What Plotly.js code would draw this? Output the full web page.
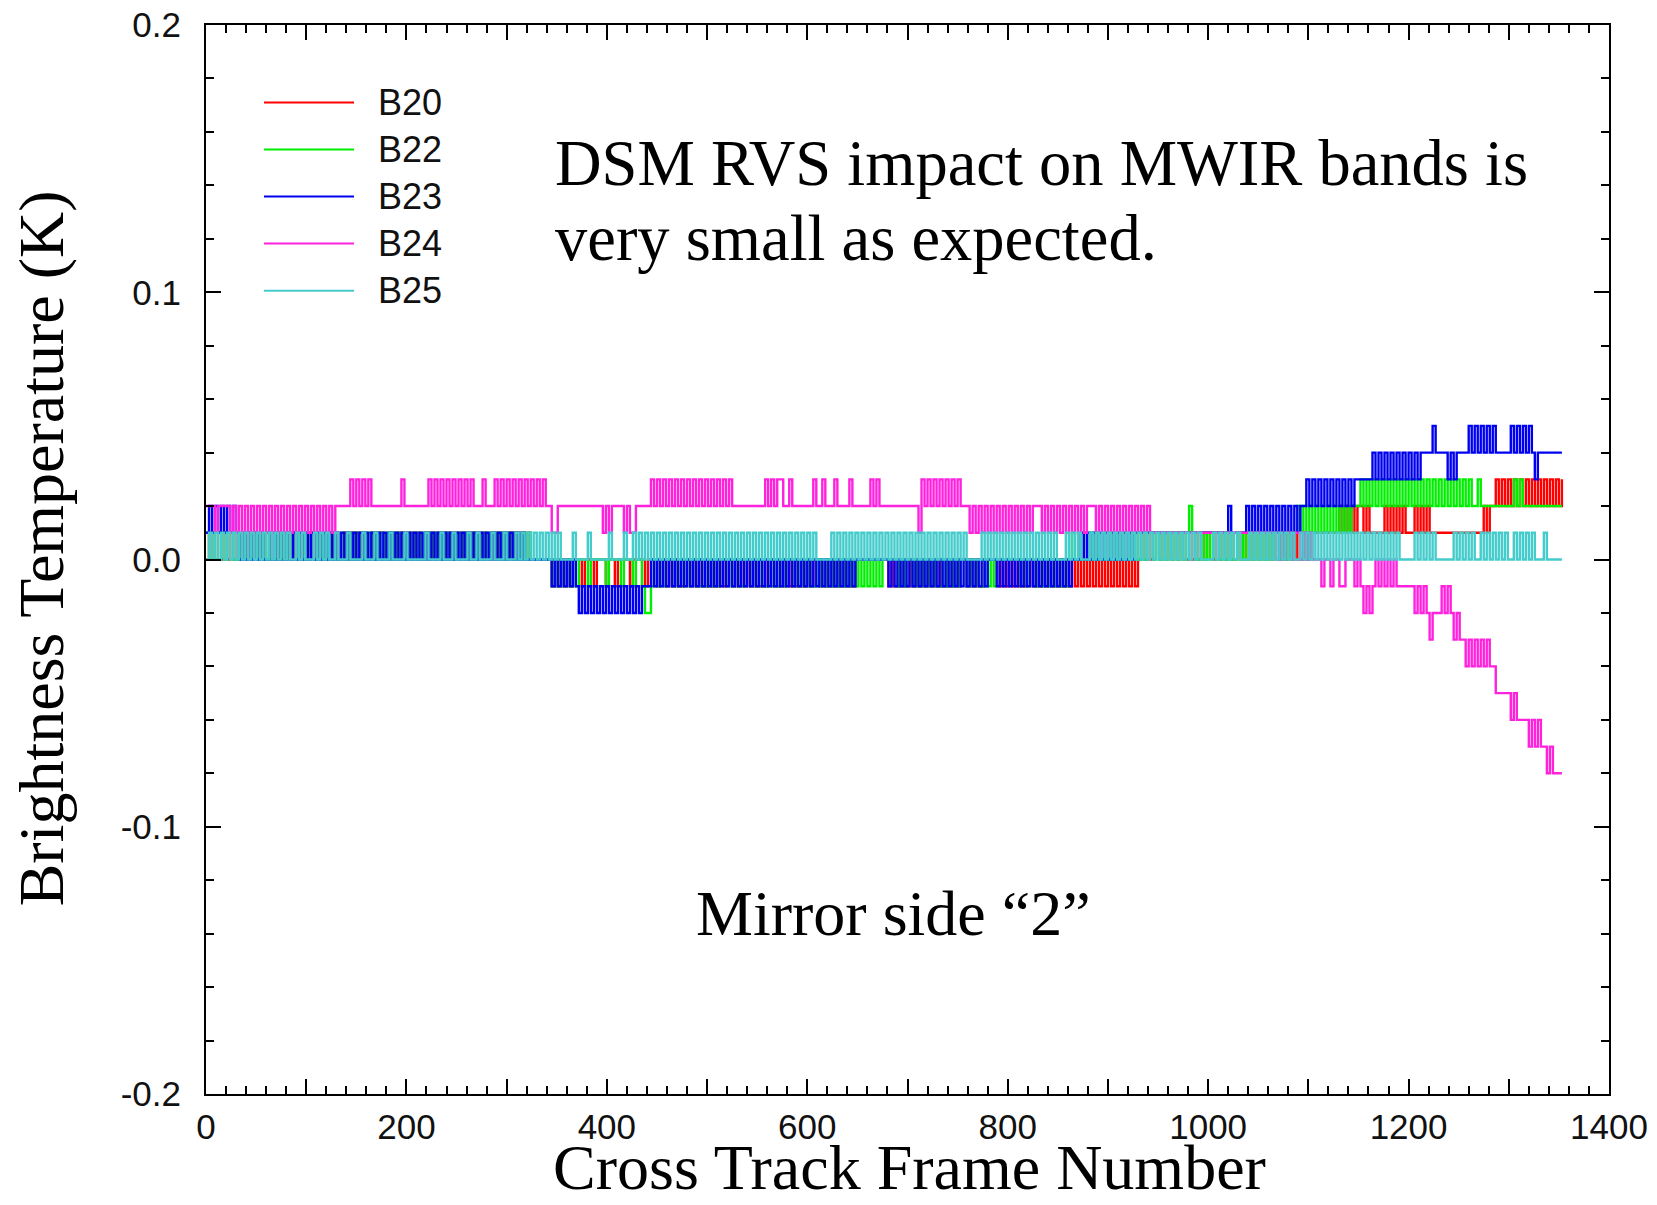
<!DOCTYPE html>
<html>
<head>
<meta charset="utf-8">
<script src="https://cdn.plot.ly/plotly-3.0.1.min.js"></script>
<style>
  html, body { margin: 0; padding: 0; background: #ffffff; }
  #chart { width: 1657px; height: 1205px; }
</style>
</head>
<body>
<div id="chart"></div>
<script>
// Brightness temperature change versus cross-track frame, MWIR bands, mirror side 2.
// Every series string holds one sample per FRAME_STEP frames (groups of ten
// samples = 30 frames, spaces are only for readability). Each letter is a
// value in 0.01 K steps: 'a' = -0.08 K ... 'i' = 0.00 K ... 'n' = +0.05 K.
const FRAME_STEP = 3;
const LEVEL_CODES = 'abcdefghijklmn';
const ZERO_CODE = 'i';

const bandNames = ['B20', 'B22', 'B23', 'B24', 'B25'];
const bandColors = ['#ff0000', '#00ee00', '#0000f0', '#ff22dd', '#44cccc'];

const b20 =
  'ijijjijiji jiijijjiji ijjijiijij jijijjijii ijijiijiji jijiijijji ' +
  'ijijijjiji jiijijijij ijijjijiji jijiijijij ijijijijii iiiiihihih ' +
  'ihiiihiiih iiihiihiii ihiiiihiii hiihihihhi ihihihhihi hihiihihih ' +
  'ihihhihiih hihihihhih ihiihihihi hihihhiiii iiiiiiihih hihhihihih ' +
  'ihihihhihi hiihihihhi iiiihihihi hihiihihih ihihihihih ihihihihih ' +
  'ihihihihih ijijijjiji jijijiijij ijijjijiji jiijijijij ijijijjiji ' +
  'jijiijijjj jjjjjjjkjk jkjkkjkjjj jjkjkjkjkj jjkjkjkjjj jjjjjjjjjj ' +
  'jjjjjkjkkl klklklklkl klklklklkl kl';

const b22 =
  'jijiijijji ijijjijiji jiijijijij ijijijjiji jijiijijij ijjijijiji ' +
  'jijijiijij ijijjijiji jiijijijij ijijijjiji jijiijijii iiiiihihih ' +
  'ihihiiihii iiihiiiihi iihiihgghi hihiihihih ihihhihihi hiihihihhi ' +
  'ihihihhihi hihiihihih ihhihihihi hihihihihi hihihiiiii hihiihihih ' +
  'ihihhihihi hiihihihhi hihiiiiiii ihihiihihi hihihihiji ijiijijiij ' +
  'jijijiijij ijijjijiji jijijijkji ijijijjiji jiijijijij ijijijjiji ' +
  'jijkjkjkjk jkjkjkjkjk jkkklklklk lklklklklk lklklklklk lklklklklk ' +
  'lkklkkkkkk kkkkklklkk kkkkkkkkkk kk';

const b23 =
  'jkjkjkjkjk jijijijiji ijijijijij ijijijijij ijijijijij ijijijijij ' +
  'ijijijijij ijijijijij ijijijijij ijijijijij ijijijiiii iiiiihihih ' +
  'ihihghghgh ghghghghgh ghghghhhih ihihihihih ihihihihih ihihihihih ' +
  'ihihihihih ihihihihih ihihihihih ihihihiiii iiiiiiihih ihihihihih ' +
  'ihihihihih ihihihihih iiihihihih ihihihihih ihihihihii ijijijijij ' +
  'ijijijijij jjjjjjjjjj jjjjjjjjjj jjjjjjjjjj kjjjjjkjkj kjkjkjkjkj ' +
  'kjkjkklklk lklklklklk lkllllllml mlmlmlmlml mlmlmmmmnm mmmlmlmmmm ' +
  'nmnmnmnmnm mmmmnmnmnm nmlmmmmmmm mm';

const b24 =
  'kkkjkkkkjk jkjkjkjkjk jkjkjkjkjk jkjkjkjkjk jkjkkkkklk lklklkkkkk ' +
  'kkkkklkkkk kkkklklklk lklklklklk kklkkklklk lklklklklk lklkkjjkkk ' +
  'kkkkkkkkkk kkjkjkkkkj kjjkkkkklk lklklklklk lklklklklk lklklkkkkk ' +
  'kkkkkklklk llkklkkkkk kklkklkkkl kkkklkkkkk klklkkkkkk kkkkkkkjlk ' +
  'lklklklklk lkkkjkjkjk jkjkjkjkjk jkjkjkkkjk jkjkjkjkjk jkjkkkjkjk ' +
  'jkjkjkjkjk jkjkjjjjjj jjjjjjjjjj jjjjjjjjjj jjjjjjjjjj jjjjjjijij ' +
  'jijjijijii ihiihiihhi iihihghghi hihihihhhh hhghghgfgg ghghgfgffe ' +
  'fefefefeed ddddcdcccc bcbcbbabaa aa';

const b25 =
  'ijijijijij ijijijijij ijijijijii jijiiijiji jiijiiijii iijiiijiii ' +
  'ijiiiijiii iiijiiiiji iijiiiijii jiiiijiiij iiijijijij ijijijijii ' +
  'iijiiiijii iiiijiiiij iijijijiji jijijijiji jijijijiji jijijijiji ' +
  'jijijijiji jijijijiji jijiiiiiji jijijijiji jijijijiji jijijijiji ' +
  'jijijijiji jijiiiiiji jijijijiji jijijijiji jijiiijiji jiiijijiji ' +
  'jijijijiji jijijijiji jijijijiji jiiiijijij ijijiiijij ijijijijij ' +
  'ijiijijiji jijijijiji jijijijiji jijijijiii iijijijiji iiiiijijij ' +
  'ijiijijiji jijiijijij ijiiijiiii ii';

const bandSeries = [b20, b22, b23, b24, b25];

// Axis ticks and their labels
const xTickVals = [0, 100, 200, 300, 400, 500, 600, 700, 800, 900, 1000, 1100, 1200, 1300, 1400];
const xTickText = ['0', '', '200', '', '400', '', '600', '', '800', '', '1000', '', '1200', '', '1400'];
const yTickVals = [-0.2, -0.1, 0, 0.1, 0.2];
const yTickText = ['-0.2', '-0.1', '0.0', '0.1', '0.2'];
const xTitle = 'Cross Track Frame Number';
const yTitle = 'Brightness Temperature (K)';

function decodeSeries(code) {
  const zero = LEVEL_CODES.indexOf(ZERO_CODE);
  const letters = code.replace(/\s+/g, '').split('');
  return {
    frames: letters.map((_, i) => i * FRAME_STEP),
    values: letters.map(c => (LEVEL_CODES.indexOf(c) - zero) / 100)
  };
}

const traces = bandSeries.map((code, k) => {
  const s = decodeSeries(code);
  return {
    type: 'scatter',
    mode: 'lines',
    name: bandNames[k],
    x: s.frames,
    y: s.values,
    line: { color: bandColors[k], width: 2.4, shape: 'hv' },
    hoverinfo: 'skip'
  };
});

const serif = '"Liberation Serif", "Times New Roman", Times, serif';
const sans = '"Liberation Sans", Arial, Helvetica, sans-serif';

// Legend key: short coloured line plus band name, stacked in the upper left
const legendTop = 0.9275;
const legendGap = 0.0440;
const shapes = [];
const annotations = [];
bandNames.forEach((name, k) => {
  const y = legendTop - k * legendGap;
  shapes.push({
    type: 'line', xref: 'paper', yref: 'paper',
    x0: 0.0413, x1: 0.1055, y0: y, y1: y,
    line: { color: bandColors[k], width: 2 }
  });
  annotations.push({
    xref: 'paper', yref: 'paper', x: 0.1215, y: y,
    xanchor: 'left', yanchor: 'middle', showarrow: false,
    text: name, font: { family: sans, size: 36, color: '#111111' }
  });
});

annotations.push(
  {
    xref: 'paper', yref: 'paper', x: 0.2470, y: 0.8705,
    xanchor: 'left', yanchor: 'middle', showarrow: false,
    text: 'DSM RVS impact on MWIR bands is',
    font: { family: serif, size: 64.5, color: '#000000' }
  },
  {
    xref: 'paper', yref: 'paper', x: 0.2470, y: 0.8004,
    xanchor: 'left', yanchor: 'middle', showarrow: false,
    text: 'very small as expected.',
    font: { family: serif, size: 64.5, color: '#000000' }
  },
  {
    xref: 'paper', yref: 'paper', x: 0.4897, y: 0.1690,
    xanchor: 'center', yanchor: 'middle', showarrow: false,
    text: 'Mirror side \u201C2\u201D',
    font: { family: serif, size: 64, color: '#000000' }
  },
  // Axis titles, placed just outside the frame
  {
    xref: 'paper', yref: 'paper', x: 0.5016, y: -0.1036,
    xanchor: 'center', yanchor: 'bottom', showarrow: false,
    text: xTitle,
    font: { family: serif, size: 64, color: '#000000' }
  },
  {
    xref: 'paper', yref: 'paper', x: -0.1170, y: 0.5103,
    xanchor: 'center', yanchor: 'middle', showarrow: false, textangle: -90,
    text: yTitle,
    font: { family: serif, size: 64, color: '#000000' }
  }
);

const axisCommon = {
  showline: true, linewidth: 2, linecolor: '#000000', mirror: 'ticks',
  ticks: 'inside', ticklen: 15, tickwidth: 2, tickcolor: '#000000',
  showgrid: false, zeroline: false,
  tickfont: { family: sans, size: 35, color: '#111111' }
};

const layout = {
  width: 1657, height: 1205,
  margin: { l: 206, r: 48, t: 25, b: 111, pad: 0 },
  paper_bgcolor: '#ffffff', plot_bgcolor: '#ffffff',
  showlegend: false,
  font: { family: sans, size: 35, color: '#111111' },
  xaxis: Object.assign({}, axisCommon, {
    range: [0, 1400],
    tickmode: 'array', tickvals: xTickVals, ticktext: xTickText,
    ticklabelstandoff: 1,
    minor: { dtick: 20, tick0: 0, ticks: 'inside', ticklen: 8, tickwidth: 2, tickcolor: '#000000', showgrid: false }
  }),
  yaxis: Object.assign({}, axisCommon, {
    range: [-0.2, 0.2],
    tickmode: 'array', tickvals: yTickVals, ticktext: yTickText,
    ticklabelstandoff: 16,
    minor: { dtick: 0.02, tick0: 0, ticks: 'inside', ticklen: 8, tickwidth: 2, tickcolor: '#000000', showgrid: false }
  }),
  shapes: shapes,
  annotations: annotations
};

Plotly.newPlot('chart', traces, layout, { displayModeBar: false, staticPlot: true });
</script>
</body>
</html>
